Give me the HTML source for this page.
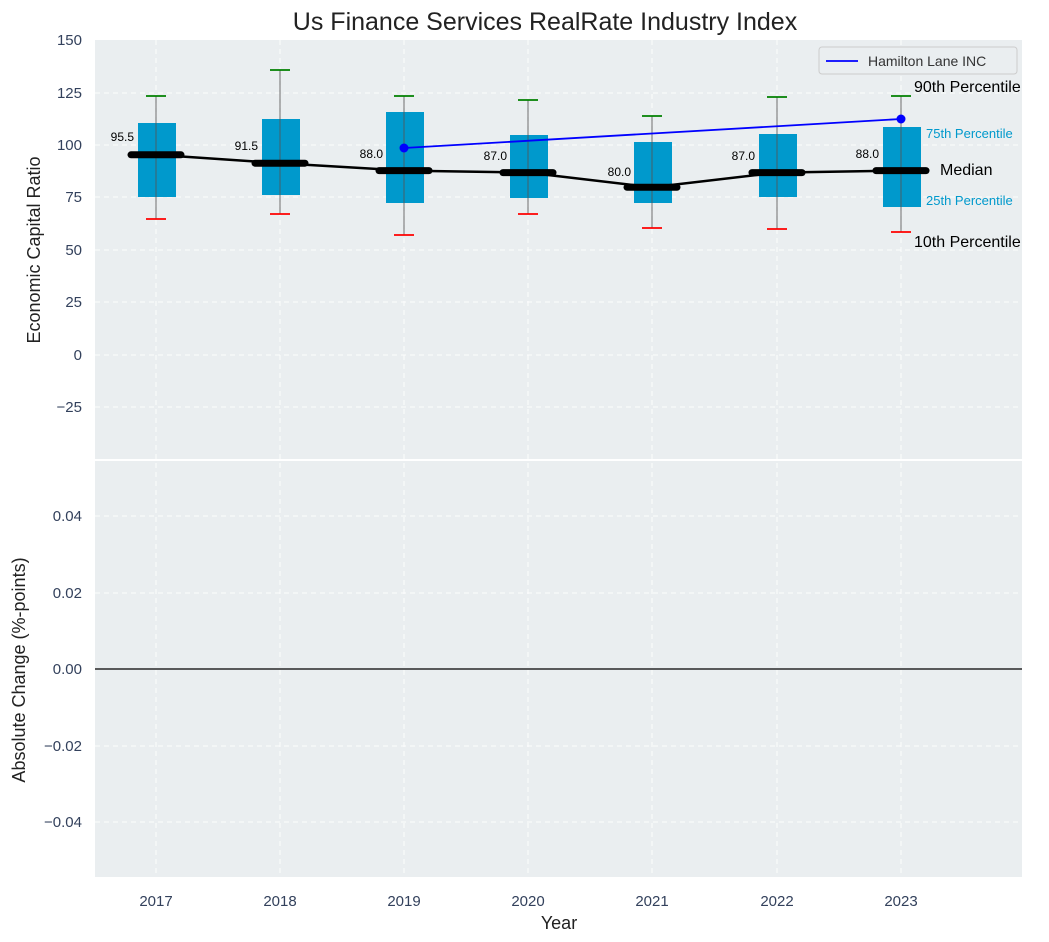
<!DOCTYPE html>
<html><head><meta charset="utf-8"><style>body{margin:0;background:#fff}svg{display:block;font-family:"Liberation Sans","DejaVu Sans",sans-serif}</style></head><body>
<svg width="1049" height="942" viewBox="0 0 1049 942" xmlns="http://www.w3.org/2000/svg">
<rect x="95" y="40" width="927" height="419" fill="#eaeef0"/>
<rect x="95" y="461" width="927" height="416" fill="#eaeef0"/>
<g stroke="#fff" stroke-dasharray="5,4" stroke-width="1" opacity="0.9">
<line x1="95" x2="1022" y1="93" y2="93"/><line x1="95" x2="1022" y1="145" y2="145"/><line x1="95" x2="1022" y1="197" y2="197"/><line x1="95" x2="1022" y1="250" y2="250"/><line x1="95" x2="1022" y1="302" y2="302"/><line x1="95" x2="1022" y1="355" y2="355"/><line x1="95" x2="1022" y1="407" y2="407"/>
<line x1="95" x2="1022" y1="516" y2="516"/><line x1="95" x2="1022" y1="593" y2="593"/><line x1="95" x2="1022" y1="746" y2="746"/><line x1="95" x2="1022" y1="822" y2="822"/>
<line x1="156" x2="156" y1="40" y2="877"/><line x1="280" x2="280" y1="40" y2="877"/><line x1="404" x2="404" y1="40" y2="877"/><line x1="528" x2="528" y1="40" y2="877"/><line x1="652" x2="652" y1="40" y2="877"/><line x1="777" x2="777" y1="40" y2="877"/><line x1="901" x2="901" y1="40" y2="877"/>
</g>
<line x1="95" x2="1022" y1="669" y2="669" stroke="#000" stroke-width="1.2"/>
<g fill="#0099cc">
<rect x="138" y="123" width="38" height="74"/><rect x="262" y="119" width="38" height="76"/><rect x="386" y="112" width="38" height="91"/><rect x="510" y="135" width="38" height="63"/><rect x="634" y="142" width="38" height="61"/><rect x="759" y="134" width="38" height="63"/><rect x="883" y="127" width="38" height="80"/>
</g>
<g stroke="#555" stroke-width="1.2" opacity="0.7">
<line x1="156" x2="156" y1="96" y2="219"/><line x1="280" x2="280" y1="70" y2="214"/><line x1="404" x2="404" y1="96" y2="235"/><line x1="528" x2="528" y1="100" y2="214"/><line x1="652" x2="652" y1="116" y2="228"/><line x1="777" x2="777" y1="97" y2="229"/><line x1="901" x2="901" y1="96" y2="232"/>
</g>
<g stroke="green" stroke-width="1.8">
<line x1="146" x2="166" y1="96" y2="96"/><line x1="270" x2="290" y1="70" y2="70"/><line x1="394" x2="414" y1="96" y2="96"/><line x1="518" x2="538" y1="100" y2="100"/><line x1="642" x2="662" y1="116" y2="116"/><line x1="767" x2="787" y1="97" y2="97"/><line x1="891" x2="911" y1="96" y2="96"/>
</g>
<g stroke="red" stroke-width="1.8">
<line x1="146" x2="166" y1="219" y2="219"/><line x1="270" x2="290" y1="214" y2="214"/><line x1="394" x2="414" y1="235" y2="235"/><line x1="518" x2="538" y1="214" y2="214"/><line x1="642" x2="662" y1="228" y2="228"/><line x1="767" x2="787" y1="229" y2="229"/><line x1="891" x2="911" y1="232" y2="232"/>
</g>
<polyline points="156,154.8 280,163.2 404,170.6 528,172.6 652,187.3 777,172.6 901,170.6" fill="none" stroke="#000" stroke-width="2.5"/>
<g stroke="#000" stroke-width="7" stroke-linecap="round">
<line x1="131" x2="181" y1="154.8" y2="154.8"/><line x1="255" x2="305" y1="163.2" y2="163.2"/><line x1="379" x2="429" y1="170.6" y2="170.6"/><line x1="503" x2="553" y1="172.6" y2="172.6"/><line x1="627" x2="677" y1="187.3" y2="187.3"/><line x1="752" x2="802" y1="172.6" y2="172.6"/><line x1="876" x2="926" y1="170.6" y2="170.6"/>
</g>
<line x1="404" y1="148" x2="901" y2="119" stroke="#0000ff" stroke-width="1.8"/>
<circle cx="404" cy="148" r="4.5" fill="#0000ff"/><circle cx="901" cy="119" r="4.5" fill="#0000ff"/>
<g font-size="12" fill="#000" text-anchor="end">
<text x="134" y="141">95.5</text><text x="258" y="150">91.5</text><text x="383" y="158">88.0</text><text x="507" y="160">87.0</text><text x="631" y="176">80.0</text><text x="755" y="160">87.0</text><text x="879" y="158">88.0</text>
</g>
<g fill="#000" font-size="16">
<text x="914" y="92">90th Percentile</text><text x="940" y="175">Median</text><text x="914" y="247">10th Percentile</text>
</g>
<g fill="#0099cc" font-size="13"><text x="926" y="138">75th Percentile</text><text x="926" y="205">25th Percentile</text></g>
<rect x="819" y="47" width="198" height="27" fill="#eaeef0" stroke="#ccc" rx="3"/>
<line x1="826" x2="858" y1="61" y2="61" stroke="#0000ff" stroke-width="1.8"/>
<text x="868" y="66" font-size="14" fill="#333">Hamilton Lane INC</text>
<text x="545" y="30" font-size="25" fill="#222" text-anchor="middle">Us Finance Services RealRate Industry Index</text>
<g font-size="15" fill="#33415c" text-anchor="end">
<text x="82" y="45">150</text><text x="82" y="98">125</text><text x="82" y="150">100</text><text x="82" y="202">75</text><text x="82" y="255">50</text><text x="82" y="307">25</text><text x="82" y="360">0</text><text x="82" y="412">−25</text>
<text x="82" y="521">0.04</text><text x="82" y="598">0.02</text><text x="82" y="674">0.00</text><text x="82" y="751">−0.02</text><text x="82" y="827">−0.04</text>
</g>
<g font-size="15" fill="#33415c" text-anchor="middle">
<text x="156" y="906">2017</text><text x="280" y="906">2018</text><text x="404" y="906">2019</text><text x="528" y="906">2020</text><text x="652" y="906">2021</text><text x="777" y="906">2022</text><text x="901" y="906">2023</text>
</g>
<text x="559" y="929" font-size="18" fill="#222" text-anchor="middle">Year</text>
<text transform="translate(40,250) rotate(-90)" font-size="18" fill="#222" text-anchor="middle">Economic Capital Ratio</text>
<text transform="translate(25,670) rotate(-90)" font-size="18" fill="#222" text-anchor="middle">Absolute Change (%-points)</text>
</svg>
</body></html>
